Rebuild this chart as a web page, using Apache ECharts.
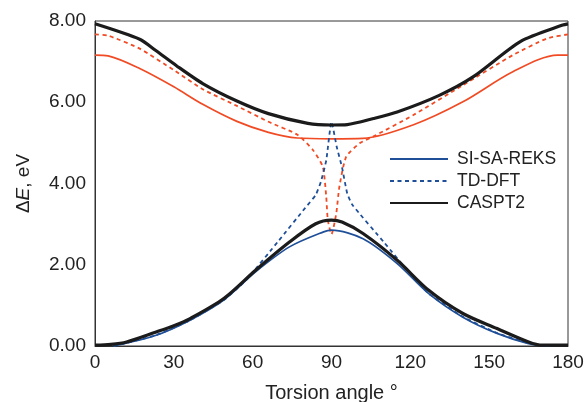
<!DOCTYPE html>
<html>
<head>
<meta charset="utf-8">
<script src="https://cdn.jsdelivr.net/npm/echarts@6/dist/echarts.min.js"></script>
<style>html,body{margin:0;padding:0;background:#fff}#c{width:585px;height:402px}</style>
</head>
<body>
<div id="c"></div>
<script>
// Torsion angles (deg) and energies (eV)
const casLowX  = [0, 6, 12, 23, 30, 36, 49, 61, 74, 84, 90, 94, 102, 115, 127, 140, 153, 165, 170, 180];
const casLowY  = [0.02, 0.04, 0.1, 0.34, 0.5, 0.67, 1.17, 1.86, 2.56, 3.01, 3.1, 3.05, 2.77, 2.11, 1.37, 0.8, 0.43, 0.1, 0.02, 0.02];
const casUpX   = [0, 17, 23, 31, 41, 54, 66, 81, 90, 96, 106, 115, 131, 144, 162, 178, 180];
const casUpY   = [7.93, 7.55, 7.28, 6.9, 6.46, 6.03, 5.72, 5.48, 5.44, 5.45, 5.6, 5.76, 6.17, 6.63, 7.5, 7.9, 7.93];
const reksLowX = [7, 23, 36, 49, 61, 74, 87, 90, 102, 115, 127, 140, 153, 165, 173];
const reksLowY = [0, 0.26, 0.63, 1.13, 1.82, 2.44, 2.81, 2.85, 2.64, 2.03, 1.29, 0.71, 0.31, 0.06, 0];
const reksUpX  = [0, 5, 17, 30, 41, 54, 66, 77, 90, 102, 121, 140, 159, 176, 180];
const reksUpY  = [7.16, 7.14, 6.83, 6.38, 5.95, 5.53, 5.26, 5.12, 5.1, 5.11, 5.44, 6.01, 6.75, 7.16, 7.16];
const tdLowX   = [7, 23, 36, 49, 57.5, 70, 80, 84, 86, 88, 90, 92, 94, 96, 98, 110, 121, 127, 140, 153, 165, 173];
const tdLowY   = [0, 0.26, 0.63, 1.13, 1.62, 2.6, 3.4, 3.72, 4.05, 4.57, 5.52, 4.9, 4.4, 3.75, 3.47, 2.55, 1.7, 1.29, 0.72, 0.32, 0.07, 0];
const tdUpX    = [0, 5, 17, 30, 41, 54, 66, 77, 83, 86.7, 88, 88.6, 90, 91.8, 93, 95.6, 100.7, 106, 121, 140, 159, 172, 180];
const tdUpY    = [7.67, 7.64, 7.32, 6.79, 6.32, 5.91, 5.52, 5.2, 4.82, 4.41, 3.67, 3.1, 2.75, 3.26, 3.92, 4.66, 4.99, 5.16, 5.68, 6.42, 7.16, 7.57, 7.67];
const legendNames = ['SI-SA-REKS', 'TD-DFT', 'CASPT2'];

const zip = (xs, ys) => xs.map((x, i) => [x, ys[i]]);
const BLUE = '#1f4f98', RED = '#f04b24', BLACK = '#1b1b1b';
const font = 'Liberation Sans, Arial, sans-serif';
const DASH = [4, 3.5];

const chart = echarts.init(document.getElementById('c'), null, {renderer: 'canvas'});
const line = (name, data, color, width, type, smooth) => ({
  name, type: 'line', data, symbol: 'none', smooth: smooth,
  lineStyle: {color, width, type}, itemStyle: {color}, z: width > 2 ? 3 : 2
});
chart.setOption({
  animation: false,
  grid: {left: 95, right: 17, top: 21, bottom: 56, show: true, borderColor: '#333', borderWidth: 1,
         containLabel: false, outerBoundsMode: 'none'},
  legend: {
    data: legendNames,
    orient: 'vertical', left: 384, top: 145, itemWidth: 58, itemHeight: 14, itemGap: 4,
    itemStyle: {opacity: 0, color: 'rgba(0,0,0,0)', borderWidth: 0},
    textStyle: {fontFamily: font, fontSize: 17.5, color: '#222', padding: [0, 0, 0, 4]}
  },
  xAxis: {
    type: 'value', min: 0, max: 180, interval: 30,
    name: 'Torsion angle °', nameLocation: 'middle', nameGap: 37, nameMoveOverlap: false,
    nameTextStyle: {fontFamily: font, fontSize: 20, color: '#222', verticalAlign: 'top'},
    axisLine: {show: true, lineStyle: {color: '#333', width: 1}},
    axisTick: {show: false}, splitLine: {show: false},
    axisLabel: {fontFamily: font, fontSize: 19, color: '#222', margin: 7}
  },
  yAxis: {
    type: 'value', min: 0, max: 8, interval: 2,
    name: '{n|Δ}{i|E}{n|, eV}', nameLocation: 'middle', nameGap: 62, nameRotate: 90, nameMoveOverlap: false,
    nameTextStyle: {fontFamily: font, fontSize: 19, color: '#222',
      rich: {n: {fontFamily: font, fontSize: 19, color: '#222'}, i: {fontFamily: font, fontSize: 19, color: '#222', fontStyle: 'italic'}}},
    axisLine: {show: true, lineStyle: {color: '#333', width: 1}},
    axisTick: {show: false}, splitLine: {show: false},
    axisLabel: {fontFamily: font, fontSize: 19, color: '#222', margin: 9, formatter: v => v.toFixed(2)}
  },
  series: [
    line('SI-SA-REKS S1', zip(reksUpX, reksUpY), RED, 1.7, 'solid', 0.3),
    line('TD-DFT S1', zip(tdUpX, tdUpY), RED, 1.8, DASH, 0.2),
    line('SI-SA-REKS', zip(reksLowX, reksLowY), BLUE, 1.7, 'solid', 0.3),
    line('TD-DFT', zip(tdLowX, tdLowY), BLUE, 1.8, DASH, 0.15),
    line('CASPT2 S1', zip(casUpX, casUpY), BLACK, 3.2, 'solid', 0.25),
    line('CASPT2', zip(casLowX, casLowY), BLACK, 3.2, 'solid', 0.3)
  ]
});
</script>
</body>
</html>
